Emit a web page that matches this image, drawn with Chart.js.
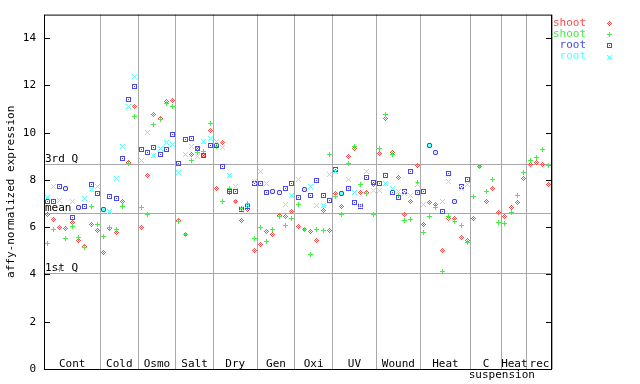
<!DOCTYPE html>
<html>
<head>
<meta charset="utf-8">
<title>affy-normalized expression</title>
<script src="https://cdn.jsdelivr.net/npm/chart.js@4.4.1/dist/chart.umd.min.js"></script>
<style>
  html, body { margin: 0; padding: 0; background: #ffffff; }
  canvas { display: block; }
</style>
</head>
<body>
<canvas id="exprChart" width="640" height="384"></canvas>
<script>
// Sample groups along the x axis and how many samples each one holds
const groups = ['Cont', 'Cold', 'Osmo', 'Salt', 'Dry', 'Gen', 'Oxi', 'UV', 'Wound', 'Heat', 'C', 'Heat', 'rec'];
const groupSizes = [9, 6, 6, 6, 7, 6, 6, 7, 7, 8, 5, 4, 4];
const subLabel = 'suspension';   // second line of the "C suspension" group

const yTicks = [0, 2, 4, 6, 8, 10, 12, 14];

// Reference lines
const refNames = ['3rd Q', 'mean', '1st Q'];
const refValues = [8.68, 6.61, 4.08];

// Series (one value per sample)
const shootRep1 = [
  6.53, 6.32, 5.97, 5.94, 6.18, 5.42, 5.19, 6.11, 5.85,
  4.92, 5.94, 5.76, 7.08, 8.74, 11.12,
  5.97, 8.21, 10.78, 10.61, 11.34, 11.37,
  6.28, 5.69, 9.09, 9.35, 9.05, 10.08,
  7.66, 9.60, 7.46, 7.08, 6.27, 6.75, 5.00,
  5.27, 5.80, 5.68, 6.49, 6.44, 6.66,
  6.03, 5.89, 5.80, 5.42, 6.69, 5.85,
  7.41, 6.87, 9.01, 9.35, 7.45, 7.45, 7.80,
  9.14, 10.61, 9.16, 8.12, 6.52, 7.11, 8.63,
  6.10, 7.03, 6.98, 5.00, 6.39, 6.35, 5.55, 5.44,
  6.35, 8.59, 7.07, 7.66, 6.61,
  6.45, 6.83, 7.03, 8.08,
  8.67, 8.76, 8.67, 7.79
];
const shootRep2 = [
  5.33, 5.90, 4.22, 5.51, 6.04, 5.58, 5.13, 6.87, 6.11,
  5.61, 6.00, 5.90, 6.87, 8.70, 10.70,
  6.82, 6.56, 10.36, 10.57, 11.24, 11.12,
  6.23, 5.68, 8.84, 9.18, 9.21, 10.40,
  9.43, 7.08, 7.63, 7.08, 6.80, 7.01, 5.51,
  5.97, 5.38, 5.89, 6.45, 6.06, 6.35,
  6.98, 5.89, 4.83, 5.89, 5.85, 9.09,
  7.28, 6.52, 8.71, 9.42, 7.79, 7.41, 6.56,
  9.35, 10.78, 9.09, 7.34, 6.27, 6.31, 7.91,
  5.76, 6.44, 6.82, 4.12, 6.44, 6.23, 6.06, 5.37,
  7.29, 8.55, 7.53, 8.04, 6.18,
  6.14, 6.61, 7.36, 8.33,
  8.84, 8.97, 9.30, 8.63
];
const rootRep1 = [
  7.11, 7.11, 7.74, 7.66, 6.41, 6.83, 6.87, 7.83, 7.41,
  6.77, 7.29, 7.21, 8.92, 11.39, 11.96,
  9.30, 9.18, 9.39, 9.09, 9.30, 9.94,
  8.71, 9.73, 9.77, 9.35, 9.05, 9.47,
  9.45, 8.56, 7.50, 7.53, 6.75, 6.87, 7.86,
  7.87, 7.45, 7.53, 7.46, 7.66, 7.87,
  7.24, 7.58, 7.36, 7.97, 7.36, 7.15,
  8.46, 7.43, 7.66, 7.03, 6.87, 8.12, 7.91,
  7.87, 8.17, 7.45, 7.25, 7.53, 8.38, 7.49,
  7.53, 9.46, 9.16, 6.65, 8.29, 7.10, 7.74, 8.00
];
const rootRep2 = [
  7.27, 7.74, 7.13, 7.66, 7.07, 6.83, 7.22, 7.58, 7.72,
  6.77, 6.66, 8.08, 9.43, 11.09, 12.38,
  8.84, 10.02, 9.05, 9.35, 9.57, 9.49,
  8.33, 9.09, 9.40, 8.98, 9.63, 9.74,
  9.61, 9.36, 8.17, 7.72, 6.80, 6.90, 7.94,
  8.35, 7.87, 7.53, 7.46, 6.98, 7.36,
  8.04, 7.58, 7.74, 6.90, 6.94, 8.25,
  8.35, 7.43, 8.04, 7.49, 6.90, 8.35, 7.55,
  7.55, 7.87, 7.66, 7.53, 7.41, 7.35, 7.83,
  6.98, 9.46, 9.16, 7.11, 7.95, 7.10, 7.62, 7.83
];

document.addEventListener("DOMContentLoaded", function () {
    const FONT = '"DejaVu Sans Mono", "Liberation Mono", monospace';
    const RED = '#ff4a4a', GREEN = '#44ee44', BLUE = '#4848ee', CYAN = '#55ffff';

    // tiny pixel sprites for the markers
    function sprite(rows, color) {
        const c = document.createElement('canvas');
        c.width = rows[0].length;
        c.height = rows.length;
        const g = c.getContext('2d');
        g.fillStyle = color;
        rows.forEach((r, y) => {
            for (let x = 0; x < r.length; x++) {
                if (r[x] === 'X') g.fillRect(x, y, 1, 1);
            }
        });
        return c;
    }
    const diamond = sprite(['..X..', '.X.X.', 'X.X.X', '.X.X.', '..X..'], RED);
    const plus = sprite(['..X..', '..X..', 'XXXXX', '..X..', '..X..'], GREEN);
    const square = sprite(['XXXXX', 'X...X', 'X.X.X', 'X...X', 'XXXXX'], BLUE);
    const cross = sprite(['X...X', '.X.X.', '..X..', '.X.X.', 'X...X'], CYAN);

    // group boundaries in sample units
    const bounds = [0];
    groupSizes.forEach(n => bounds.push(bounds[bounds.length - 1] + n));
    const total = bounds[bounds.length - 1];

    const toPoints = vals => vals.map((v, i) => ({ x: i + 0.5, y: v }));

    const series = [
        { label: 'shoot', data: shootRep1, color: RED, style: diamond },
        { label: 'shoot', data: shootRep2, color: GREEN, style: plus },
        { label: 'root', data: rootRep1, color: BLUE, style: square },
        { label: 'root', data: rootRep2, color: CYAN, style: cross }
    ];

    // Extra drawing: reference lines, frame, inner ticks, group labels, legend
    const decorations = {
        id: 'decorations',
        beforeDatasetsDraw(chart) {
            const { ctx, chartArea: a, scales: { y } } = chart;
            ctx.save();
            ctx.strokeStyle = '#a8a8a8';
            ctx.lineWidth = 1;
            ctx.font = '11px ' + FONT;
            ctx.fillStyle = '#000';
            ctx.textAlign = 'left';
            ctx.textBaseline = 'bottom';
            refValues.forEach((v, k) => {
                const py = Math.round(y.getPixelForValue(v)) + 0.5;
                ctx.beginPath();
                ctx.moveTo(a.left, py);
                ctx.lineTo(a.right, py);
                ctx.stroke();
                ctx.fillText(refNames[k], a.left + 1, py + 0.5);
            });
            ctx.restore();
            ctx.imageSmoothingEnabled = false;
        },
        afterDatasetsDraw(chart) {
            const { ctx, chartArea: a, scales: { x, y } } = chart;
            ctx.save();
            ctx.imageSmoothingEnabled = false;

            // frame
            ctx.strokeStyle = '#000';
            ctx.lineWidth = 1;
            ctx.strokeRect(a.left + 0.5, a.top + 0.5, a.right - a.left - 1, a.bottom - a.top);

            // inner tick marks on both sides
            ctx.beginPath();
            yTicks.forEach(v => {
                const py = Math.round(y.getPixelForValue(v)) + 0.5;
                ctx.moveTo(a.left, py);
                ctx.lineTo(a.left + 6, py);
                ctx.moveTo(a.right - 6, py);
                ctx.lineTo(a.right, py);
            });
            ctx.stroke();

            // group labels
            ctx.font = '11px ' + FONT;
            ctx.fillStyle = '#000';
            ctx.textAlign = 'center';
            ctx.textBaseline = 'alphabetic';
            groups.forEach((g, k) => {
                const cx = x.getPixelForValue((bounds[k] + bounds[k + 1]) / 2);
                ctx.fillText(g, cx, a.bottom - 2);
            });
            const cIdx = groups.indexOf('C');
            ctx.fillText(subLabel, x.getPixelForValue(bounds[cIdx + 1]), a.bottom + 9);

            // legend
            ctx.textAlign = 'right';
            ctx.textBaseline = 'middle';
            series.forEach((s, k) => {
                const ly = 23 + k * 11.2;
                ctx.fillStyle = s.color;
                ctx.fillText(s.label, a.right + 34, ly);
                ctx.drawImage(s.style, a.right + 55, Math.round(ly) - 2);
            });
            ctx.restore();
        }
    };

    const ctx = document.getElementById('exprChart').getContext('2d');

    new Chart(ctx, {
        type: 'scatter',
        data: {
            datasets: series.map((s, k) => ({
                label: s.label,
                data: toPoints(s.data),
                pointStyle: s.style,
                pointRadius: 3,
                borderColor: s.color,
                backgroundColor: s.color,
                order: series.length - k
            }))
        },
        options: {
            responsive: false,
            animation: false,
            events: [],
            layout: { padding: { top: 13, right: 88, left: 0, bottom: 0 } },
            plugins: {
                legend: { display: false },
                tooltip: { enabled: false }
            },
            scales: {
                x: {
                    type: 'linear',
                    min: 0,
                    max: total,
                    afterBuildTicks: s => { s.ticks = bounds.map(v => ({ value: v })); },
                    afterFit: s => { s.height = 15; },
                    ticks: { display: false },
                    grid: { color: '#a8a8a8', lineWidth: 1, drawTicks: false },
                    border: { display: false }
                },
                y: {
                    min: 0,
                    max: 15,
                    afterBuildTicks: s => { s.ticks = yTicks.map(v => ({ value: v })); },
                    afterFit: s => { s.width = 44; },
                    ticks: { color: '#000', padding: 8, font: { family: FONT, size: 11 } },
                    grid: { display: false, drawTicks: false },
                    border: { display: false },
                    title: {
                        display: true,
                        text: 'affy-normalized expression',
                        color: '#000',
                        font: { family: FONT, size: 11 },
                        padding: { top: 5, bottom: 0 }
                    }
                }
            }
        },
        plugins: [decorations]
    });
});
</script>
</body>
</html>
